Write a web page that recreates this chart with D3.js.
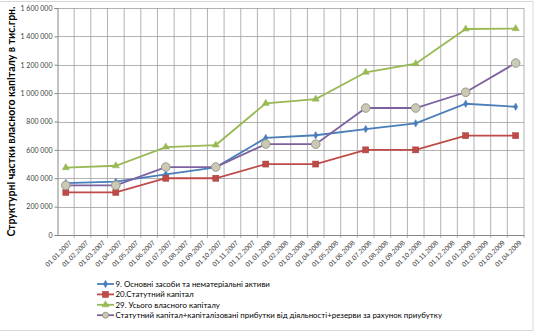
<!DOCTYPE html>
<html>
<head>
<meta charset="utf-8">
<script src="https://cdn.jsdelivr.net/npm/d3@7"></script>
<style>
  html, body { margin: 0; padding: 0; background: #fff; }
  svg { display: block; font-family: Lato, "Open Sans", sans-serif; }
</style>
</head>
<body>
<svg id="chart" width="539" height="334"></svg>
<script>
// Monthly category axis, 01.01.2007 – 01.04.2009
const categories = [
  "01.01.2007","01.02.2007","01.03.2007","01.04.2007","01.05.2007","01.06.2007",
  "01.07.2007","01.08.2007","01.09.2007","01.10.2007","01.11.2007","01.12.2007",
  "01.01.2008","01.02.2008","01.03.2008","01.04.2008","01.05.2008","01.06.2008",
  "01.07.2008","01.08.2008","01.09.2008","01.10.2008","01.11.2008","01.12.2008",
  "01.01.2009","01.02.2009","01.03.2009","01.04.2009"
];

// Reporting dates (quarterly) that carry values
const reportDates = [
  "01.01.2007","01.04.2007","01.07.2007","01.10.2007","01.01.2008",
  "01.04.2008","01.07.2008","01.10.2008","01.01.2009","01.04.2009"
];

// Series values, thousand UAH
const fixedAssets   = [366000, 376000, 428000, 477000, 684000, 703000, 747000, 787000, 925000, 904000];
const charterCap    = [300000, 300000, 400000, 400000, 500000, 500000, 600000, 600000, 700000, 700000];
const totalEquity   = [475000, 488000, 620000, 634000, 928000, 958000, 1147000, 1207000, 1452000, 1455000];
const capPlusRes    = [350000, 350000, 479000, 479000, 641000, 640000, 895000, 895000, 1006000, 1212000];

const seriesNames = [
  "9. Основні засоби та нематеріальні активи",
  "20.Статутний капітал",
  "29. Усього власного капіталу",
  "Статутний капітал+капіталізовані прибутки від діяльності+резерви за рахунок приубутку"
];

const yTicks = [0, 200000, 400000, 600000, 800000, 1000000, 1200000, 1400000, 1600000];
const yTitle = "Структурні частки власного капіталу в тис.грн.";

const series = [
  { name: seriesNames[0], values: fixedAssets, color: "#4a7ebb", marker: "diamond" },
  { name: seriesNames[1], values: charterCap,  color: "#be4b48", marker: "square" },
  { name: seriesNames[2], values: totalEquity, color: "#98b954", marker: "triangle" },
  { name: seriesNames[3], values: capPlusRes,  color: "#7d60a0", marker: "circle" }
];

const svg = d3.select("#chart");
const plot = { left: 57.5, right: 524, top: 8, bottom: 235 };

// chart area border
svg.append("rect")
  .attr("x", -2).attr("y", 1.5).attr("width", 535).attr("height", 329)
  .attr("fill", "#fff").attr("stroke", "#d9d9d9").attr("stroke-width", 1);

const x = d3.scaleBand().domain(categories).range([plot.left, plot.right]).padding(0);
const y = d3.scaleLinear().domain([0, 1600000]).range([plot.bottom, plot.top]);

const grid = svg.append("g").attr("stroke", "#a0a0a0").attr("stroke-width", 0.8);

// horizontal gridlines
grid.selectAll("line.h").data(yTicks.filter(d => d > 0)).join("line")
  .attr("x1", plot.left).attr("x2", plot.right)
  .attr("y1", d => Math.round(y(d)) + 0.5).attr("y2", d => Math.round(y(d)) + 0.5);

// vertical gridlines at category boundaries (+ tick marks below axis)
const bounds = categories.map(c => x(c)).concat([plot.right]);
grid.selectAll("line.v").data(bounds.slice(1)).join("line")
  .attr("x1", d => d).attr("x2", d => d)
  .attr("y1", plot.top).attr("y2", plot.bottom + 3);

// y axis
const yAxis = svg.append("g")
  .attr("transform", `translate(${plot.left},0)`)
  .call(d3.axisLeft(y).tickValues(yTicks).tickSize(3).tickPadding(2)
    .tickFormat(d => d3.format(",")(d).replace(/,/g, " ")));
yAxis.select(".domain").attr("stroke", "#868686");
yAxis.selectAll(".tick line").attr("stroke", "#868686");
yAxis.selectAll(".tick text").attr("font-size", 7).attr("fill", "#404040")
  .attr("font-family", "Lato, sans-serif");

// x axis
const xAxis = svg.append("g")
  .attr("transform", `translate(0,${plot.bottom})`)
  .call(d3.axisBottom(x).tickSize(0).tickPadding(4));
xAxis.select(".domain").attr("stroke", "#868686");
xAxis.selectAll(".tick text")
  .attr("font-size", 6.8).attr("fill", "#404040")
  .attr("text-anchor", "end")
  .attr("dy", "0.3em")
  .attr("transform", "translate(2,4) rotate(-45)");

// y axis title
svg.append("text")
  .attr("transform", `translate(15,${(plot.top + plot.bottom) / 2}) rotate(-90)`)
  .attr("text-anchor", "middle")
  .attr("font-size", 10.5).attr("font-weight", "bold").attr("fill", "#000")
  .text(yTitle);

const cx = d => x(d) + x.bandwidth() / 2;

function drawMarker(g, type, color, px, py) {
  if (type === "diamond") {
    g.append("path").attr("d", d3.symbol(d3.symbolDiamond, 16)())
      .attr("transform", `translate(${px},${py})`).attr("fill", color).attr("stroke", color).attr("stroke-width", 0.5);
  } else if (type === "square") {
    g.append("rect").attr("x", px - 3).attr("y", py - 3).attr("width", 6).attr("height", 6)
      .attr("fill", color).attr("stroke", "#a33a37").attr("stroke-width", 0.5);
  } else if (type === "triangle") {
    g.append("path").attr("d", d3.symbol(d3.symbolTriangle, 22)())
      .attr("transform", `translate(${px},${py})`).attr("fill", color).attr("stroke", color).attr("stroke-width", 0.5);
  } else {
    g.append("circle").attr("cx", px).attr("cy", py).attr("r", 4.3)
      .attr("fill", "#c9c9b4").attr("stroke", "#9a9a8a").attr("stroke-width", 1);
  }
}

const line = d3.line().x(d => cx(d.date)).y(d => y(d.value));

series.forEach(s => {
  const pts = reportDates.map((d, i) => ({ date: d, value: s.values[i] }));
  const g = svg.append("g");
  g.append("path").datum(pts).attr("d", line)
    .attr("fill", "none").attr("stroke", s.color).attr("stroke-width", 1.8);
  pts.forEach(p => drawMarker(g, s.marker, s.color, cx(p.date), y(p.value)));
});

// legend
const legend = svg.append("g").attr("transform", "translate(97,284)");
series.forEach((s, i) => {
  const g = legend.append("g").attr("transform", `translate(0,${i * 10.4})`);
  g.append("line").attr("x1", 0).attr("x2", 17).attr("y1", 0).attr("y2", 0)
    .attr("stroke", s.color).attr("stroke-width", 1.8);
  if (s.marker === "circle") {
    g.append("circle").attr("cx", 8.5).attr("cy", 0).attr("r", 3)
      .attr("fill", "#c9c9b4").attr("stroke", "#9a9a8a").attr("stroke-width", 1);
  } else {
    drawMarker(g, s.marker, s.color, 8.5, 0);
  }
  g.append("text").attr("x", 18.5).attr("y", 0).attr("dy", "0.35em")
    .attr("font-size", 7.9).attr("fill", "#000").text(s.name);
});
</script>
</body>
</html>
